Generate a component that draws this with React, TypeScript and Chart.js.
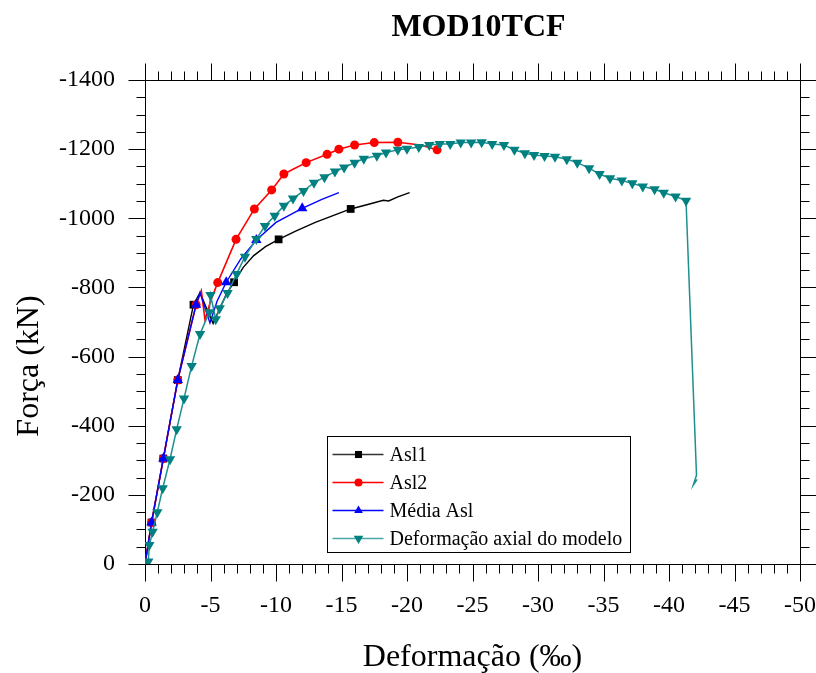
import React, { useEffect, useRef } from 'react';
import { Chart, registerables } from 'chart.js';

Chart.register(...registerables);

const TITLE = 'MOD10TCF';
const X_TITLE = 'Deformação (‰)';
const Y_TITLE = 'Força (kN)';
const SERIES_NAMES = ['Asl1', 'Asl2', 'Média Asl', 'Deformação axial do modelo'];

const X_MIN = -50;
const X_MAX = 0;
const Y_MIN = -1400;
const Y_MAX = 0;

// Asl1 (black, squares)
const asl1X = [0, -0.5, -1.4, -2.5, -3.7, -4.2, -4.7, -5.2, -5.6, -6.2, -6.8, -7.5, -8.3, -9.2, -10.2, -11.5, -13.0, -14.5, -15.7, -17.0, -18.2, -18.6, -19.3, -20.2];
const asl1Y = [0, -120, -305, -532, -750, -785, -740, -696, -730, -780, -815, -858, -892, -918, -939, -963, -988, -1010, -1027, -1040, -1052, -1050, -1062, -1074];
const asl1Marks = [1, 2, 3, 4, 10, 14, 18];

// Asl2 (red, circles)
const asl2X = [0, -0.5, -1.4, -2.5, -3.9, -4.3, -4.58, -5.0, -5.55, -6.95, -8.35, -9.67, -10.6, -11.3, -12.3, -13.9, -14.8, -16.0, -17.5, -19.3, -21.0, -22.3];
const asl2Y = [0, -120, -305, -532, -750, -790, -706, -760, -814, -939, -1027, -1082, -1128, -1142, -1161, -1185, -1200, -1212, -1219, -1220, -1212, -1198];
const asl2Marks = [1, 2, 3, 4, 8, 9, 10, 11, 12, 14, 15, 16, 17, 18, 19, 21];

// Média Asl (blue, triangles)
const mediaX = [0, -0.5, -1.4, -2.5, -3.9, -4.2, -4.96, -5.5, -6.2, -7.3, -8.5, -10.0, -12.0, -13.5, -14.8];
const mediaY = [0, -120, -305, -532, -750, -785, -697, -760, -815, -882, -937, -988, -1029, -1055, -1074];
const mediaMarks = [1, 2, 3, 4, 8, 10, 12];

// Deformação axial do modelo (teal, down triangles)
const modeloX = [0, -0.25, -0.33, -0.58, -0.94, -1.35, -1.91, -2.42, -2.98, -3.56, -4.2, -4.9, -5.0, -5.4, -5.7, -6.3, -7.0, -7.63, -8.5, -9.16, -9.9, -10.6, -11.3, -12.1, -12.9, -13.7, -14.5, -15.2, -16.0, -16.7, -17.7, -18.4, -19.3, -20.0, -20.9, -21.7, -22.5, -23.3, -24.1, -24.9, -25.7, -26.5, -27.4, -28.2, -29.0, -29.7, -30.5, -31.3, -32.2, -33.0, -33.9, -34.7, -35.5, -36.4, -37.2, -38.0, -38.9, -39.6, -40.5, -41.3, -42.1, -41.85, -42.15];
const modeloY = [0, -7, -55, -93, -150, -219, -303, -390, -479, -573, -665, -728, -778, -708, -740, -784, -839, -889, -940, -978, -1007, -1036, -1057, -1079, -1103, -1119, -1135, -1147, -1161, -1172, -1181, -1190, -1198, -1201, -1206, -1212, -1215, -1215, -1219, -1219, -1220, -1215, -1212, -1198, -1188, -1183, -1180, -1178, -1171, -1161, -1145, -1128, -1116, -1109, -1101, -1092, -1084, -1074, -1063, -1051, -257, -228, -245];
const modeloMarkCount = 60;

const toPoints = (xs: number[], ys: number[]) => xs.map((x, i) => ({ x, y: ys[i] }));

const SERIF = '"Liberation Serif", "Times New Roman", serif';

function drawMarker(ctx: CanvasRenderingContext2D, style: string, x: number, y: number, r: number, color: string) {
  ctx.save();
  ctx.fillStyle = color;
  ctx.beginPath();
  if (style === 'rect') {
    const s = r * Math.SQRT1_2;
    ctx.rect(x - s, y - s, 2 * s, 2 * s);
  } else if (style === 'circle') {
    ctx.arc(x, y, r, 0, Math.PI * 2);
  } else {
    const dir = style === 'down' ? -1 : 1;
    const a = (Math.PI * 2) / 3;
    for (let k = 0; k < 3; k++) {
      const ang = k * a;
      const px = x + Math.sin(ang) * r;
      const py = y - dir * Math.cos(ang) * r;
      if (k === 0) ctx.moveTo(px, py);
      else ctx.lineTo(px, py);
    }
    ctx.closePath();
  }
  ctx.fill();
  ctx.restore();
}

const framePlugin = {
  id: 'frameTicksLegend',
  beforeDatasetsDraw(chart: any) {
    const { ctx, chartArea: ca, scales } = chart;
    const xs = scales.x;
    const ys = scales.y;
    const L = Math.round(ca.left) + 0.5;
    const R = Math.round(ca.right) + 0.5;
    const T = Math.round(ca.top) + 0.5;
    const B = Math.round(ca.bottom) + 0.5;
    ctx.save();
    ctx.strokeStyle = '#000';
    ctx.lineWidth = 1;
    ctx.beginPath();
    ctx.rect(L, T, R - L, B - T);
    for (let v = X_MIN; v <= X_MAX; v += 1) {
      const px = Math.round(xs.getPixelForValue(v)) + 0.5;
      const len = v % 5 === 0 ? 17 : 9;
      ctx.moveTo(px, B);
      ctx.lineTo(px, B + len);
      ctx.moveTo(px, T);
      ctx.lineTo(px, T - len);
    }
    for (let v = Y_MIN; v <= Y_MAX; v += 50) {
      const py = Math.round(ys.getPixelForValue(v)) + 0.5;
      const len = v % 200 === 0 ? 17 : 9;
      ctx.moveTo(L, py);
      ctx.lineTo(L - len, py);
      ctx.moveTo(R, py);
      ctx.lineTo(R + len, py);
    }
    ctx.stroke();
    ctx.restore();
  },
  afterDraw(chart: any) {
    const { ctx, chartArea: ca } = chart;
    const cx = (ca.left + ca.right) / 2;
    const cy = (ca.top + ca.bottom) / 2;
    ctx.save();
    ctx.fillStyle = '#000';
    ctx.textAlign = 'center';
    ctx.textBaseline = 'middle';
    ctx.font = `bold 32px ${SERIF}`;
    ctx.fillText(TITLE, cx + 6, 20);
    ctx.font = `32px ${SERIF}`;
    ctx.fillText(X_TITLE, cx, ca.bottom + 94);
    ctx.save();
    ctx.translate(22, cy + 44);
    ctx.rotate(-Math.PI / 2);
    ctx.fillText(Y_TITLE, 0, 0);
    ctx.restore();

    // legend
    const bx = Math.round(ca.left + 182) + 0.5;
    const by = Math.round(ca.bottom - 128) + 0.5;
    const bw = 303;
    const bh = 116;
    ctx.fillStyle = '#fff';
    ctx.fillRect(bx, by, bw, bh);
    ctx.strokeStyle = '#000';
    ctx.lineWidth = 1;
    ctx.strokeRect(bx, by, bw, bh);
    const items = [
      { line: '#333', mark: '#000', style: 'rect', r: 5 },
      { line: '#ff0000', mark: '#ff0000', style: 'circle', r: 4 },
      { line: '#0000ff', mark: '#0000ff', style: 'up', r: 5 },
      { line: '#4aa8a8', mark: '#008080', style: 'down', r: 5.5 },
    ];
    ctx.font = `20px ${SERIF}`;
    ctx.textAlign = 'left';
    items.forEach((it, i) => {
      const yy = by + 18 + i * 28;
      ctx.strokeStyle = it.line;
      ctx.lineWidth = 1.5;
      ctx.beginPath();
      ctx.moveTo(bx + 5, yy);
      ctx.lineTo(bx + 56, yy);
      ctx.stroke();
      drawMarker(ctx, it.style, bx + 31, yy, it.r, it.mark);
      ctx.fillStyle = '#000';
      ctx.fillText(SERIES_NAMES[i], bx + 62, yy + 1);
    });
    ctx.restore();
  },
};

export default function App() {
  const ref = useRef<HTMLCanvasElement | null>(null);

  useEffect(() => {
    if (!ref.current) return;
    const marks = (idx: number[], r: number) => (c: any) => (idx.includes(c.dataIndex) ? r : 0);
    const chart = new Chart(ref.current, {
      type: 'scatter',
      data: {
        datasets: [
          {
            label: SERIES_NAMES[0],
            data: toPoints(asl1X, asl1Y),
            showLine: true,
            order: 4,
            borderColor: '#000',
            backgroundColor: '#000',
            borderWidth: 1.4,
            pointStyle: 'rect',
            pointRadius: marks(asl1Marks, 5.5),
            pointBorderWidth: 0,
          },
          {
            label: SERIES_NAMES[1],
            data: toPoints(asl2X, asl2Y),
            showLine: true,
            order: 3,
            borderColor: '#ff0000',
            backgroundColor: '#ff0000',
            borderWidth: 1.6,
            pointStyle: 'circle',
            pointRadius: marks(asl2Marks, 4.5),
            pointBorderWidth: 0,
          },
          {
            label: SERIES_NAMES[2],
            data: toPoints(mediaX, mediaY),
            showLine: true,
            order: 2,
            borderColor: '#0000ff',
            backgroundColor: '#0000ff',
            borderWidth: 1.4,
            pointStyle: 'triangle',
            pointRadius: marks(mediaMarks, 6),
            pointBorderWidth: 0,
          },
          {
            label: SERIES_NAMES[3],
            data: toPoints(modeloX, modeloY),
            showLine: true,
            order: 1,
            borderColor: '#1f8f8f',
            backgroundColor: '#008080',
            borderWidth: 1.5,
            pointStyle: 'triangle',
            pointRotation: 180,
            pointRadius: (c: any) => (c.dataIndex < modeloMarkCount ? 6 : 0),
            pointBorderWidth: 0,
          },
        ],
      },
      options: {
        animation: false,
        responsive: false,
        events: [],
        layout: { padding: { top: 72, right: 16, bottom: 0, left: 0 } },
        plugins: {
          legend: { display: false },
          title: { display: false },
          tooltip: { enabled: false },
        },
        scales: {
          x: {
            type: 'linear',
            min: X_MIN,
            max: X_MAX,
            reverse: true,
            grid: { display: false, drawTicks: false },
            border: { display: false },
            ticks: {
              stepSize: 5,
              padding: 27,
              color: '#000',
              font: { family: SERIF, size: 24 },
              maxRotation: 0,
              autoSkip: false,
              callback: (v: any) => String(v),
            },
            afterFit: (s: any) => {
              s.height = 109;
              s.paddingLeft = 0;
              s.paddingRight = 0;
            },
          },
          y: {
            type: 'linear',
            min: Y_MIN,
            max: Y_MAX,
            reverse: true,
            grid: { display: false, drawTicks: false },
            border: { display: false },
            ticks: {
              stepSize: 200,
              padding: 30,
              color: '#000',
              font: { family: SERIF, size: 24 },
              autoSkip: false,
              callback: (v: any) => String(v),
            },
            afterFit: (s: any) => {
              s.width = 137;
              s.paddingTop = 0;
              s.paddingBottom = 0;
            },
          },
        },
      },
      plugins: [framePlugin],
    } as any);
    return () => chart.destroy();
  }, []);

  return (
    <div style={{ position: 'fixed', left: 8, top: 8, width: 808, height: 665 }}>
      <canvas ref={ref} width={808} height={665} style={{ width: 808, height: 665, display: 'block' }} />
    </div>
  );
}
